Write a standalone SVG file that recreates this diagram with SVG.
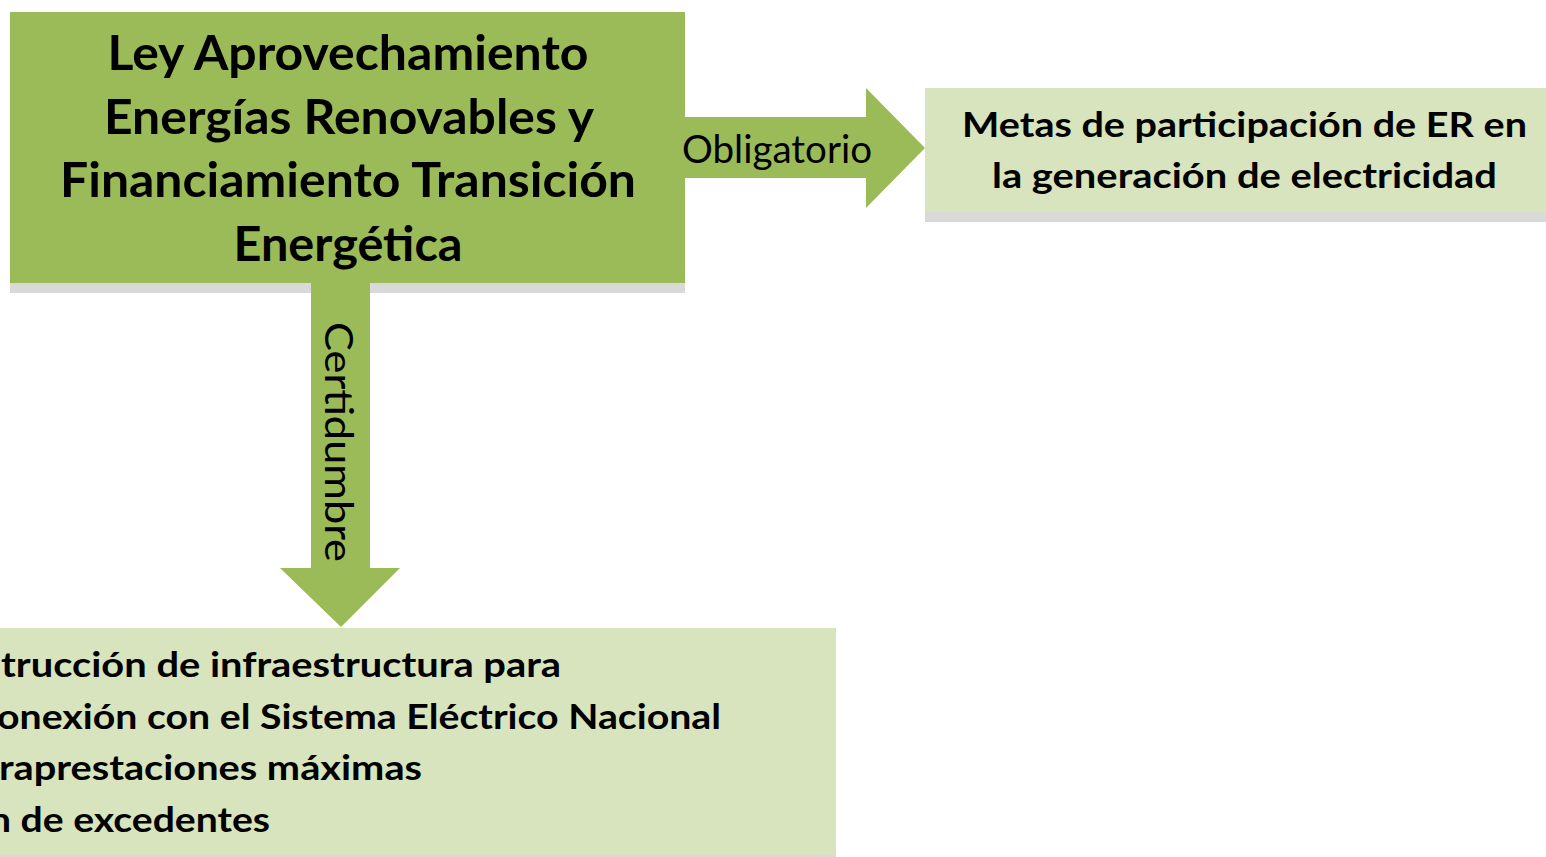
<svg xmlns="http://www.w3.org/2000/svg" width="1546" height="857" viewBox="0 0 1546 857">
<style>
.dark{fill:#9BBB59}
.light{fill:#D7E4BD}
.shadow{fill:#D9D9D9}
.b{font-family:Lato,"Liberation Sans","Open Sans",sans-serif;font-weight:700;fill:#000}
.r{font-family:Lato,"Liberation Sans","Open Sans",sans-serif;font-weight:400;fill:#000}
.t{font-size:47px;text-anchor:middle}
.m{font-size:34px}
.l{font-size:38px}
</style>
<rect width="1546" height="857" fill="#FFFFFF"/>
<g id="node-ley">
<rect class="shadow" x="10" y="283" width="675" height="10"/>
<rect class="dark" x="10" y="12" width="675" height="271"/>
<text class="b t" x="348" y="70" textLength="481" lengthAdjust="spacingAndGlyphs">Ley Aprovechamiento</text>
<text class="b t" x="349" y="134" textLength="490" lengthAdjust="spacingAndGlyphs">Energías Renovables y</text>
<text class="b t" x="348" y="197" textLength="576" lengthAdjust="spacingAndGlyphs">Financiamiento Transición</text>
<text class="b t" x="348" y="261" textLength="229" lengthAdjust="spacingAndGlyphs">Energética</text>
</g>
<g id="node-metas">
<rect class="shadow" x="925" y="212" width="621" height="10"/>
<rect class="light" x="925" y="88" width="621" height="124"/>
<text class="b m" x="962" y="137" textLength="565" lengthAdjust="spacingAndGlyphs">Metas de participación de ER en</text>
<text class="b m" x="992" y="188" textLength="505" lengthAdjust="spacingAndGlyphs">la generación de electricidad</text>
</g>
<g id="node-certidumbre-items">
<rect class="shadow" x="-10" y="855" width="846" height="10"/>
<rect class="light" x="-10" y="628" width="846" height="227"/>
<text class="b m" x="1" y="677" textLength="560" lengthAdjust="spacingAndGlyphs">trucción de infraestructura para</text>
<text class="b m" x="-3" y="729" textLength="724" lengthAdjust="spacingAndGlyphs">onexión con el Sistema Eléctrico Nacional</text>
<text class="b m" x="-1" y="780" textLength="423" lengthAdjust="spacingAndGlyphs">raprestaciones máximas</text>
<text class="b m" x="-11" y="832" textLength="281" lengthAdjust="spacingAndGlyphs">n de excedentes</text>
</g>
<g id="connectors">
<g id="arrow-obligatorio">
<polygon class="dark" points="684,117 866,117 866,88 925,148 866,208 866,178 684,178"/>
<text class="r l" x="682" y="163" textLength="190" lengthAdjust="spacingAndGlyphs">Obligatorio</text>
</g>
<g id="arrow-certidumbre">
<polygon class="dark" points="311,283 370,283 370,568 400,568 341,627 280,568 311,568"/>
<text class="r l" transform="translate(325,322) rotate(90)" x="0" y="0" textLength="240" lengthAdjust="spacingAndGlyphs">Certidumbre</text>
</g>
</g>
</svg>
